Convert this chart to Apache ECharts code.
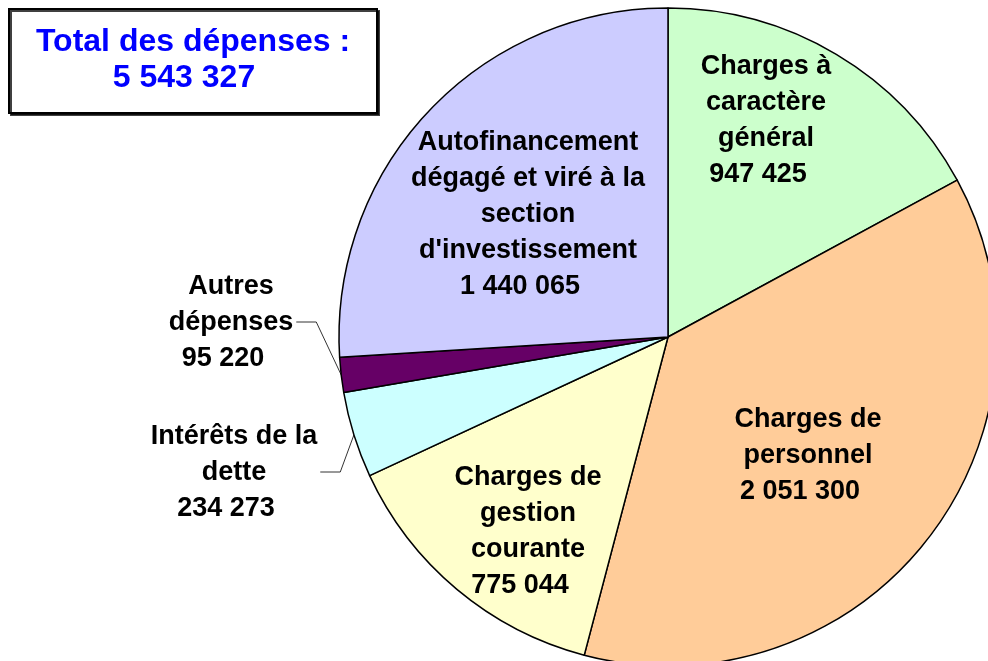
<!DOCTYPE html>
<html>
<head>
<meta charset="utf-8">
<script src="https://cdn.jsdelivr.net/npm/echarts@6/dist/echarts.min.js"></script>
<style>
html,body{margin:0;padding:0;background:#fff;}
#chart{width:988px;height:661px;}
</style>
</head>
<body>
<div id="chart"></div>
<script>
const categories = [
  "Charges à\ncaractère\ngénéral",
  "Charges de\npersonnel",
  "Charges de\ngestion\ncourante",
  "Intérêts de la\ndette",
  "Autres\ndépenses",
  "Autofinancement\ndégagé et viré à la\nsection\nd'investissement"
];
const values = [947425, 2051300, 775044, 234273, 95220, 1440065];
const colors = ["#CCFFCC", "#FFCC99", "#FFFFCC", "#CCFFFF", "#660066", "#CCCCFF"];
const totalLabel = "Total des dépenses :";
const totalValue = "5 543 327";

// label layout (centres), styling only
const labelCenters = [[766,121],[808,456],[528,532],[234,473],[231,323],[528,215]];
const outside = [false,false,false,true,true,false];

function fmt(n){
  return String(n).replace(/\B(?=(\d{3})+(?!\d))/g, " ");
}

const FONT = "'Liberation Sans', Arial, sans-serif";
const chart = echarts.init(document.getElementById('chart'), null, {renderer:'canvas'});

const data = categories.map((name,i)=>({
  name, value: values[i],
  itemStyle:{color: colors[i]},
  label:{position: outside[i] ? 'outside' : 'inside'},
  labelLine:{show: outside[i]}
}));

const CX = 668, CY = 337, R = 329;
const FS = 27;

chart.setOption({
  animation:false,
  backgroundColor:'#fff',
  graphic:[
    {type:'rect', shape:{x:9,y:9,width:368,height:104},
     style:{fill:'#fff', stroke:'#000', lineWidth:2, shadowColor:'rgba(0,0,0,0.75)', shadowOffsetX:2, shadowOffsetY:2, shadowBlur:0}, z:10},
    {type:'text', x:193, y:42, z:11,
     style:{text: totalLabel, fill:'#0000FF', font:"bold 32px " + FONT, align:'center', verticalAlign:'middle'}},
    {type:'text', x:184, y:78, z:11,
     style:{text: totalValue, fill:'#0000FF', font:"bold 32px " + FONT, align:'center', verticalAlign:'middle'}}
  ],
  series:[{
    type:'pie',
    center:[CX, CY],
    radius:R,
    startAngle:90,
    clockwise:true,
    avoidLabelOverlap:false,
    itemStyle:{borderColor:'#000', borderWidth:1.5},
    emphasis:{disabled:true},
    label:{
      show:true,
      color:'#000',
      fontFamily:FONT,
      fontWeight:'bold',
      fontSize:FS,
      lineHeight:36,
      align:'center',
      formatter: p => p.name + "\n{n|" + fmt(p.value) + "}",
      rich:{
        n:{color:'#000', fontFamily:FONT, fontWeight:'bold', fontSize:FS, lineHeight:36, padding:[0,16,0,0]}
      }
    },
    labelLine:{lineStyle:{color:'#333', width:1}, length:10, length2:10},
    labelLayout: function(params){
      const i = params.dataIndex;
      const c = labelCenters[i];
      const res = {x:c[0], y:c[1], align:'center', verticalAlign:'middle'};
      if (outside[i]) {
        const total = values.reduce((a,b)=>a+b,0);
        let cum = 0;
        for (let k=0;k<i;k++) cum += values[k];
        const mid = (cum + values[i]/2)/total * 2*Math.PI;
        const p0 = [CX + R*Math.sin(mid), CY - R*Math.cos(mid)];
        const right = c[0] + params.labelRect.width/2 + 3;
        const ly = c[1] - 1;
        res.labelLinePoints = [p0, [right + 20, ly], [right, ly]];
      }
      return res;
    },
    data
  }]
});
</script>
</body>
</html>
